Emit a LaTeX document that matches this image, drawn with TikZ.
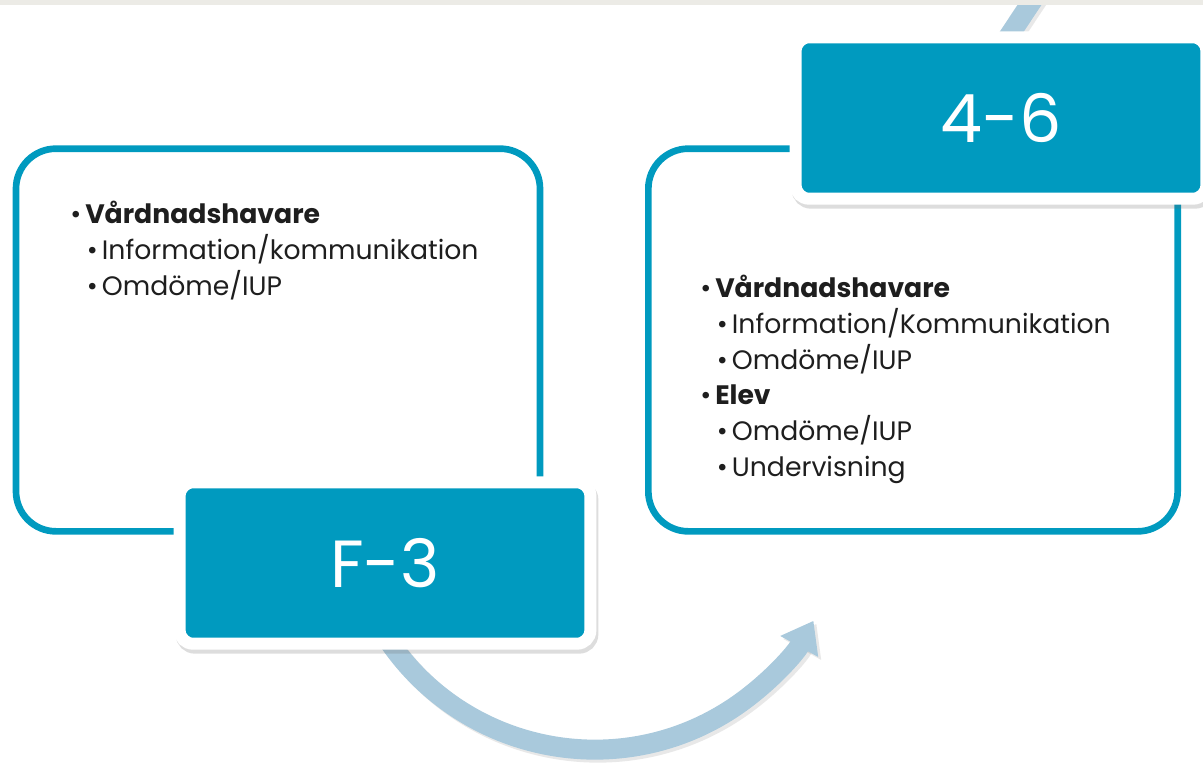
\documentclass[tikz,border=0pt]{standalone}
\usepackage{fontspec}
\setmainfont{Poppins}
\usetikzlibrary{arrows.meta,shadows}
\definecolor{tealBlue}{RGB}{0,154,191}
\definecolor{arrowBlue}{RGB}{169,201,220}
\definecolor{topGray}{RGB}{236,235,230}
\definecolor{textDark}{RGB}{30,30,30}
\newcommand{\itemOne}[1]{\textbullet\hspace{3pt}\textbf{#1}}
\newcommand{\itemTwo}[1]{\hspace*{12.5pt}\textbullet\hspace{3pt}#1}

\begin{document}
\begin{tikzpicture}[x=0.75pt,y=-0.75pt]
  \tikzset{
    outlineBox/.style={draw=tealBlue,line width=5pt,fill=white,rounded corners=30pt,
      minimum height=287pt},
    gradeBox/.style={fill=tealBlue,draw=white,line width=9pt,rounded corners=10pt,
      minimum width=308pt,minimum height=121pt,text=white,
      font=\fontsize{50}{60}\selectfont,
      drop shadow={opacity=0.22,shadow xshift=1.5pt,shadow yshift=-3pt,
        draw=black!60,line width=9pt}},
    listText/.style={align=left,anchor=north west,inner sep=0pt,text=textDark,
      font=\fontsize{20}{26.8}\selectfont},
    flowArrow/.style={draw=arrowBlue,line width=15pt},
    flowShadow/.style={draw=black!60,opacity=0.15,line width=15pt}
  }
  \useasboundingbox (0,0) rectangle (1203,765);
  \coordinate (arcStart) at (390,643);
  \coordinate (bandStart) at (993,60);
  \coordinate (bandEnd) at (1042,-14);
  \draw[flowShadow,-{Triangle[length=22pt,width=31pt]}] (393,646) arc[start angle=145,end angle=29,radius=250];
  \draw[flowArrow,-{Triangle[length=22pt,width=31pt]}] (arcStart) arc[start angle=145,end angle=29,radius=250];
  \draw[flowShadow] (997,61) -- (1046,-13);
  \draw[flowArrow] (bandStart) -- (bandEnd);
  \fill[topGray] (0,0) rectangle (1203,5);
  \node[outlineBox,minimum width=393pt] (f3Panel) at (278,340) {};
  \node[outlineBox,minimum width=397pt] (g46Panel) at (913,340) {};
  \node[gradeBox] (f3) at (385,563) {F-3};
  \node[gradeBox] (g46) at (1001,118) {4-6};
  \node[listText] (f3List) at (70,201) {\itemOne{Vårdnadshavare}\\
    \itemTwo{Information/kommunikation}\\
    \itemTwo{Omdöme/IUP}};
  \node[listText] (g46List) at (700,275) {\itemOne{Vårdnadshavare}\\
    \itemTwo{Information/Kommunikation}\\
    \itemTwo{Omdöme/IUP}\\
    \itemOne{Elev}\\
    \itemTwo{Omdöme/IUP}\\
    \itemTwo{Undervisning}};
\end{tikzpicture}
\end{document}
